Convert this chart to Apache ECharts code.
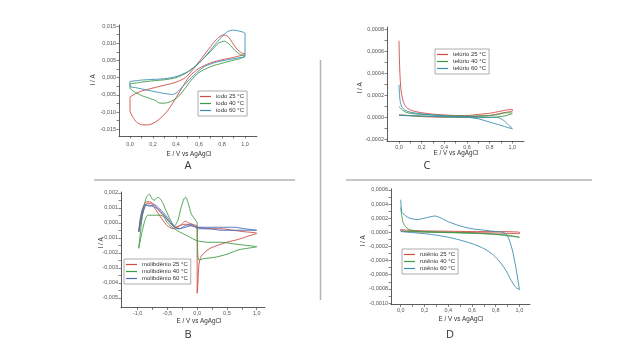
<!DOCTYPE html>
<html><head><meta charset="utf-8">
<script src="https://cdn.jsdelivr.net/npm/echarts@6/dist/echarts.min.js"></script>
<style>html,body{margin:0;padding:0;background:#fff}#c{width:640px;height:360px}</style>
</head><body><div id="c"></div>
<script>
// ---------- Panel A: iodo ----------
const iodo25 = [[0.0,-0.0056],[0.05,-0.0046],[0.1,-0.0039],[0.2,-0.0030],[0.3,-0.0022],[0.4,-0.0013],[0.48,0.0],[0.55,0.0025],[0.62,0.0055],[0.7,0.0090],[0.76,0.0114],[0.81,0.0124],[0.85,0.0120],[0.89,0.0102],[0.93,0.0083],[0.97,0.0072],[1.0,0.0069],
  [0.97,0.0065],[0.9,0.0059],[0.8,0.0052],[0.7,0.0043],[0.6,0.0027],[0.52,0.0005],[0.46,-0.0025],[0.4,-0.0058],[0.34,-0.0090],[0.28,-0.0113],[0.22,-0.0129],[0.16,-0.0137],[0.11,-0.0137],[0.06,-0.0130],[0.02,-0.0112],[0.0,-0.0095],[0.0,-0.0075],[0.0,-0.0056]];
const iodo40 = [[0.0,-0.0018],[0.1,-0.0013],[0.2,-0.0009],[0.3,-0.0006],[0.4,0.0],[0.5,0.0016],[0.6,0.0043],[0.7,0.0076],[0.77,0.0100],[0.82,0.0106],[0.86,0.0098],[0.91,0.0080],[0.96,0.0067],[1.0,0.0062],
  [0.95,0.0055],[0.88,0.0049],[0.8,0.0042],[0.7,0.0032],[0.6,0.0015],[0.53,-0.0008],[0.47,-0.0035],[0.41,-0.0058],[0.35,-0.0070],[0.3,-0.0074],[0.26,-0.0074],[0.22,-0.0066],[0.17,-0.0060],[0.1,-0.0052],[0.05,-0.0043],[0.0,-0.0030],[0.0,-0.0018]];
const iodo60 = [[0.0,-0.0011],[0.1,-0.0007],[0.2,-0.0005],[0.3,-0.0003],[0.4,0.0003],[0.5,0.0017],[0.6,0.0042],[0.7,0.0080],[0.78,0.0112],[0.84,0.0132],[0.89,0.0138],[0.94,0.0136],[1.0,0.0128],[1.0,0.0095],[1.0,0.0062],
  [0.95,0.0058],[0.85,0.0052],[0.75,0.0045],[0.65,0.0033],[0.58,0.0015],[0.52,-0.0005],[0.46,-0.0025],[0.41,-0.0042],[0.37,-0.0049],[0.32,-0.0047],[0.25,-0.0043],[0.15,-0.0036],[0.05,-0.0029],[0.0,-0.0025],[0.0,-0.0011]];
const aXTicks = [0.0,0.2,0.4,0.6,0.8,1.0];
const aYTicks = [-0.015,-0.010,-0.005,0.000,0.005,0.010,0.015];

// ---------- Panel B: molibdênio ----------
const moli25 = [[0.0,-0.0002],[0.0,-0.0047],[0.01,-0.0042],[0.03,-0.0028],[0.06,-0.0023],[0.12,-0.0020],[0.22,-0.0017],[0.35,-0.0015],[0.5,-0.0013],[0.7,-0.0011],[0.85,-0.0009],[1.0,-0.0007],
  [0.8,-0.0006],[0.6,-0.0005],[0.4,-0.0004],[0.2,-0.0004],[0.0,-0.0003],[-0.1,-0.0002],[-0.2,-0.0001],[-0.3,-0.0002],[-0.4,-0.0004],[-0.5,-0.0002],[-0.6,0.0003],[-0.7,0.0009],[-0.78,0.0013],[-0.84,0.0013],[-0.9,0.0008],[-0.95,0.0],[-0.98,-0.0006],
  [-0.95,0.0004],[-0.9,0.0011],[-0.85,0.0014],[-0.8,0.0014],[-0.72,0.0012],[-0.62,0.0007],[-0.5,0.0002],[-0.4,-0.0002],[-0.33,-0.0003],[-0.26,-0.0001],[-0.2,0.0001],[-0.15,0.0],[-0.08,-0.0001],[0.0,-0.0002]];
const moli40 = [[0.0,0.0],[0.01,-0.0020],[0.03,-0.0025],[0.1,-0.0024],[0.3,-0.0023],[0.5,-0.0021],[0.7,-0.0018],[0.85,-0.0017],[1.0,-0.0016],
  [0.8,-0.0015],[0.6,-0.0014],[0.4,-0.0013],[0.2,-0.0013],[0.0,-0.0012],[-0.15,-0.0009],[-0.3,-0.0006],[-0.42,-0.0003],[-0.5,0.0],[-0.56,0.0004],[-0.62,0.0005],[-0.75,0.0005],[-0.83,0.0005],[-0.88,0.0001],[-0.93,-0.0007],[-0.98,-0.0017],
  [-0.94,-0.0002],[-0.9,0.0010],[-0.85,0.0017],[-0.8,0.0019],[-0.76,0.0016],[-0.72,0.0015],[-0.66,0.0017],[-0.6,0.0015],[-0.52,0.0008],[-0.45,0.0002],[-0.38,-0.0002],[-0.32,0.0002],[-0.27,0.0010],[-0.22,0.0016],[-0.19,0.0017],[-0.15,0.0013],[-0.1,0.0006],[-0.05,0.0003],[0.0,0.0]];
const moli60 = [[0.0,-0.0004],[0.2,-0.0004],[0.4,-0.0005],[0.6,-0.0005],[0.8,-0.0005],[1.0,-0.0005],
  [0.8,-0.0004],[0.6,-0.0003],[0.4,-0.0003],[0.2,-0.0003],[0.0,-0.0003],[-0.1,-0.0002],[-0.2,-0.0003],[-0.3,-0.0004],[-0.38,-0.0003],[-0.46,0.0],[-0.55,0.0005],[-0.65,0.0009],[-0.75,0.0011],[-0.85,0.0012],[-0.9,0.0008],[-0.95,0.0],[-0.98,-0.0006],
  [-0.95,0.0003],[-0.91,0.0010],[-0.87,0.0012],[-0.8,0.0011],[-0.72,0.0012],[-0.65,0.0010],[-0.55,0.0006],[-0.45,0.0001],[-0.38,-0.0003],[-0.3,-0.0004],[-0.2,-0.0002],[-0.1,-0.0001],[0.0,-0.0004]];
const bXTicks = [-1.0,-0.5,0.0,0.5,1.0];
const bYTicks = [-0.005,-0.004,-0.003,-0.002,-0.001,0.000,0.001,0.002];

// ---------- Panel C: telúrio ----------
const tel25 = [[0.0,0.00070],[0.003,0.00055],[0.008,0.00040],[0.015,0.00028],[0.025,0.00020],[0.04,0.00014],[0.06,0.00010],[0.1,0.00007],[0.15,0.000055],[0.2,0.000045],[0.3,0.000032],[0.4,0.000025],[0.5,0.00002],[0.6,0.00002],[0.7,0.00003],[0.8,0.00004],[0.9,0.00006],[0.95,0.00007],[1.0,0.000075],[1.0,0.00006],[0.95,0.00005],[0.9,0.00004],[0.8,0.00002],[0.6,0.000008],[0.4,0.000005],[0.2,0.00001],[0.1,0.000018],[0.0,0.000025]];
const tel40 = [[0.0,0.00010],[0.01,0.00009],[0.03,0.00007],[0.06,0.00005],[0.1,0.00004],[0.2,0.00003],[0.4,0.00002],[0.6,0.000015],[0.8,0.00002],[0.88,0.00003],[0.94,0.000045],[1.0,0.00004],[0.95,0.00002],[0.85,0.000005],[0.7,0.0],[0.5,0.000005],[0.3,0.00001],[0.1,0.00002],[0.0,0.000025]];
const tel60 = [[0.0,0.00030],[0.005,0.00020],[0.012,0.00014],[0.025,0.00010],[0.05,0.00007],[0.1,0.00005],[0.2,0.000035],[0.3,0.000025],[0.4,0.000015],[0.5,0.00001],[0.6,0.000005],[0.7,-0.00001],[0.8,-0.00004],[0.9,-0.00007],[0.96,-0.00009],[1.0,-0.0001],[0.97,-0.00007],[0.93,-0.00003],[0.88,0.0],[0.8,0.000005],[0.6,0.000008],[0.4,0.00001],[0.2,0.000015],[0.0,0.00002]];
const cXTicks = [0.0,0.2,0.4,0.6,0.8,1.0];
const cYTicks = [-0.0002,0.0000,0.0002,0.0004,0.0006,0.0008];

// ---------- Panel D: rutênio ----------
const rut25 = [[0.0,0.00004],[0.05,0.00003],[0.2,0.00002],[0.4,0.000015],[0.6,0.00001],[0.8,0.00001],[1.0,0.0],[1.0,-0.00002],[0.8,-0.00001],[0.6,-0.000005],[0.4,0.0],[0.2,0.000005],[0.05,0.00001],[0.0,0.00002],[0.0,0.00004]];
const rut40 = [[0.0,0.00035],[0.01,0.00022],[0.02,0.00014],[0.04,0.00008],[0.07,0.00004],[0.12,0.00002],[0.2,0.00001],[0.4,0.0],[0.6,-0.00001],[0.8,-0.00003],[0.9,-0.00005],[1.0,-0.00007],[0.9,-0.00004],[0.7,-0.00002],[0.5,-0.00001],[0.3,0.0],[0.1,0.00001],[0.0,0.00002]];
const rut60 = [[0.0,0.00046],[0.004,0.00034],[0.01,0.00028],[0.03,0.00025],[0.06,0.00021],[0.1,0.00019],[0.14,0.00018],[0.2,0.00020],[0.25,0.00022],[0.29,0.00023],[0.34,0.00020],[0.4,0.00015],[0.5,0.00009],[0.6,0.00005],[0.7,0.00003],[0.8,0.00001],[0.86,0.0],[0.9,-0.00005],[0.94,-0.00025],[0.97,-0.0005],[1.0,-0.00081],
  [0.97,-0.00078],[0.93,-0.00068],[0.89,-0.00055],[0.84,-0.00043],[0.78,-0.00032],[0.7,-0.00023],[0.6,-0.00016],[0.5,-0.00011],[0.4,-0.00007],[0.3,-0.00004],[0.2,-0.00002],[0.1,-0.000005],[0.0,0.00001]];
const dXTicks = [0.0,0.2,0.4,0.6,0.8,1.0];
const dYTicks = [-0.0010,-0.0008,-0.0006,-0.0004,-0.0002,0.0000,0.0002,0.0004,0.0006];

const RED = '#cf4a44', GREEN = '#3f9a46', TEAL = '#3b8db2', BLUE = '#4a6db3';

function minors(t){ const out=[]; for(let i=0;i<t.length;i++){ out.push(t[i]); if(i<t.length-1) out.push((t[i]+t[i+1])/2);} return out; }
function fmt(d){ return v => { let s = Number(v).toFixed(d); if (/^-0[.,]0+$/.test(s)) s = s.slice(1); return s.replace('.', ','); }; }

const axLine = {lineStyle:{color:'#333', width:0.8}};
function mkAxis(gi, min, max, ticks, dec, margin){
  return {
    type:'value', gridIndex:gi, min:min, max:max,
    axisLine: Object.assign({show:true, onZero:false}, axLine),
    axisTick:{show:true, length:2.5, lineStyle:{color:'#333', width:0.6}, customValues: minors(ticks)},
    axisLabel:{show:true, fontSize:5.5, color:'#555', margin:margin, fontFamily:'Liberation Sans', customValues: ticks, formatter: fmt(dec)},
    splitLine:{show:false}
  };
}

const grids = [
  {left:119, top:25, width:138, height:111},
  {left:121, top:192, width:144, height:115.5},
  {left:387, top:27, width:137, height:114},
  {left:391, top:189, width:139, height:115.5}
];

const xAxes = [
  mkAxis(0, -0.0957, 1.104, aXTicks, 1, 5),
  mkAxis(1, -1.278, 1.139, bXTicks, 1, 3),
  mkAxis(2, -0.106, 1.103, cXTicks, 1, 3),
  mkAxis(3, -0.082, 1.089, dXTicks, 1, 3)
];
const yAxes = [
  mkAxis(0, -0.01694, 0.0153, aYTicks, 3, 3),
  mkAxis(1, -0.00565, 0.00205, bYTicks, 3, 3),
  mkAxis(2, -0.000212, 0.000825, cYTicks, 4, 3),
  mkAxis(3, -0.001021, 0.000612, dYTicks, 4, 3)
];

function s(name, data, gi, color){
  return {name:name, type:'line', data:data, xAxisIndex:gi, yAxisIndex:gi, showSymbol:false, symbol:'none', smooth:0.25,
    lineStyle:{color:color, width:0.9}, itemStyle:{color:color}, clip:true, animation:false};
}
const series = [
  s('iodo 25 °C', iodo25, 0, RED), s('iodo 40 °C', iodo40, 0, GREEN), s('iodo 60 °C', iodo60, 0, TEAL),
  s('molibdênio 25 °C', moli25, 1, RED), s('molibdênio 40 °C', moli40, 1, GREEN), s('molibdênio 60 °C', moli60, 1, BLUE),
  s('telúrio 25 °C', tel25, 2, RED), s('telúrio 40 °C', tel40, 2, GREEN), s('telúrio 60 °C', tel60, 2, TEAL),
  s('rutênio 25 °C', rut25, 3, RED), s('rutênio 40 °C', rut40, 3, GREEN), s('rutênio 60 °C', rut60, 3, TEAL)
];

function lg(names, left, top){
  return {data:names, left:left, top:top, orient:'vertical', icon:'rect', itemWidth:11, itemHeight:1.2, itemGap:0,
    padding:[2,3,2,2], backgroundColor:'#fff', borderColor:'#777', borderWidth:0.6, selectedMode:false,
    textStyle:{fontSize:6, color:'#333', lineHeight:7, fontFamily:'Liberation Sans'}};
}
const legends = [
  lg(['iodo 25 °C','iodo 40 °C','iodo 60 °C'], 198, 91),
  lg(['molibdênio 25 °C','molibdênio 40 °C','molibdênio 60 °C'], 124, 259),
  lg(['telúrio 25 °C','telúrio 40 °C','telúrio 60 °C'], 435, 49),
  lg(['rutênio 25 °C','rutênio 40 °C','rutênio 60 °C'], 402, 249)
];

function txt(x, y, t, size, rot, font){
  return {type:'text', x:x, y:y, rotation: rot ? Math.PI/2 : 0,
    style:{text:t, fontSize:size, fill:'#333', align:'center', verticalAlign:'middle', fontFamily:font || 'Liberation Sans'}};
}
const graphics = [
  {type:'line', shape:{x1:94, y1:180, x2:295, y2:180}, style:{stroke:'#b4b4b4', lineWidth:1.5}},
  {type:'line', shape:{x1:346, y1:180, x2:592, y2:180}, style:{stroke:'#b4b4b4', lineWidth:1.5}},
  {type:'line', shape:{x1:320.5, y1:60, x2:320.5, y2:300}, style:{stroke:'#b4b4b4', lineWidth:1.5}},
  txt(189, 154, 'E / V vs AgAgCl', 6.3), txt(456, 153.5, 'E / V vs AgAgCl', 6.3),
  txt(199, 321, 'E / V vs AgAgCl', 6.3), txt(461, 319.5, 'E / V vs AgAgCl', 6.3),
  txt(93, 80, 'I / A', 6.3, true), txt(360, 88, 'I / A', 6.3, true),
  txt(101, 243, 'I / A', 6.3, true), txt(363, 241, 'I / A', 6.3, true),
  txt(188, 166, 'A', 11, false, 'Open Sans'), txt(427, 166, 'C', 11, false, 'Open Sans'),
  txt(188, 335, 'B', 11, false, 'Open Sans'), txt(450, 335, 'D', 11, false, 'Open Sans')
];

const chart = echarts.init(document.getElementById('c'), null, {renderer:'canvas'});
chart.setOption({
  animation:false, backgroundColor:'#fff',
  grid: grids, xAxis: xAxes, yAxis: yAxes, series: series, legend: legends, graphic: graphics
});
</script></body></html>
